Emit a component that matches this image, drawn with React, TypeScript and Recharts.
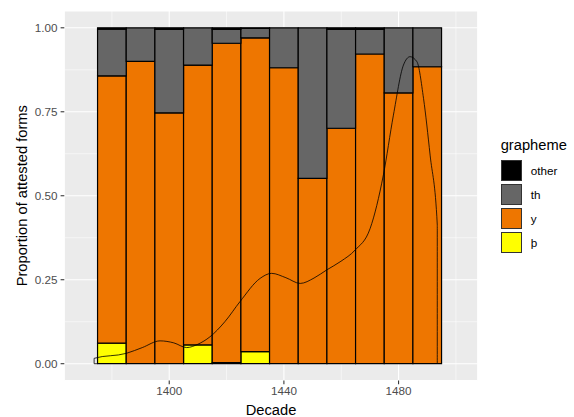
import React from 'react';
import { ComposedChart, Bar, Line, XAxis, YAxis, CartesianGrid } from 'recharts';

const decades = [1380, 1390, 1400, 1410, 1420, 1430, 1440, 1450, 1460, 1470, 1480, 1490];
const thornShare = [0.061, 0, 0, 0.056, 0.003, 0.036, 0, 0, 0, 0, 0, 0];
const yShare = [0.796, 0.9, 0.747, 0.833, 0.951, 0.934, 0.881, 0.552, 0.701, 0.922, 0.806, 0.884];
const thShare = [0.139, 0.1, 0.248, 0.111, 0.041, 0.028, 0.119, 0.448, 0.294, 0.073, 0.194, 0.116];
const otherShare = [0.004, 0, 0.005, 0, 0.005, 0.002, 0, 0, 0.005, 0.005, 0, 0];

const densityYears = [1375.0, 1373.8, 1373.8, 1385.1, 1390.6, 1396.8, 1401.6, 1406.1, 1410.0, 1414.2, 1419.4, 1424.7, 1431.7, 1435.7, 1440.7, 1445.7, 1450.5, 1454.9, 1459.9, 1464.8, 1470.1, 1474.7, 1478.2, 1481.7, 1484.0, 1486.4, 1488.7, 1491.0, 1493.5, 1493.5];
const densityValues = [0, 0, 0.016, 0.031, 0.048, 0.068, 0.062, 0.048, 0.058, 0.08, 0.125, 0.185, 0.254, 0.269, 0.256, 0.239, 0.255, 0.279, 0.305, 0.338, 0.403, 0.562, 0.74, 0.889, 0.914, 0.899, 0.79, 0.621, 0.413, 0];

const xTicks = [1400, 1440, 1480];
const xMinor = [1380, 1420, 1460, 1500];
const yTicks = [0, 0.25, 0.5, 0.75, 1];
const yMinor = [0.125, 0.375, 0.625, 0.875];

const legendItems = [
  { label: 'other', color: '#000000' },
  { label: 'th', color: '#666666' },
  { label: 'y', color: '#EE7600' },
  { label: 'þ', color: '#FFFF00' },
];

const barData = decades.map((d, i) => ({
  x: d,
  thorn: thornShare[i],
  y: yShare[i],
  th: thShare[i],
  other: otherShare[i],
}));

const densityData = densityYears.map((d, i) => ({ x: d, density: densityValues[i] }));

const FONT = '"Liberation Sans", Arial, Helvetica, sans-serif';
const X_DOMAIN: [number, number] = [1363.4, 1507.6];
const BAR_W = 28.65;

const YTitle = (props: any) => {
  const vb = props.viewBox || {};
  const cx = (vb.x || 0) + 22;
  const cy = (vb.y || 0) + (vb.height || 0) / 2;
  return (
    <text
      x={cx}
      y={cy}
      transform={`rotate(-90, ${cx}, ${cy})`}
      textAnchor="middle"
      dominantBaseline="central"
      fontSize={14.7}
      fill="#000"
      fontFamily={FONT}
    >
      Proportion of attested forms
    </text>
  );
};

const XTitle = (props: any) => {
  const vb = props.viewBox || {};
  const cx = (vb.x || 0) + (vb.width || 0) / 2;
  const cy = (vb.y || 0) + 29.5;
  return (
    <text x={cx} y={cy} textAnchor="middle" dominantBaseline="central" fontSize={14.7} fill="#000" fontFamily={FONT}>
      Decade
    </text>
  );
};

export default function App() {
  return (
    <div style={{ position: 'absolute', left: 0, top: 0, width: 574, height: 417, background: '#fff', fontFamily: FONT }}>
      <ComposedChart
        width={574}
        height={417}
        data={barData}
        margin={{ top: 11, right: 96.3, bottom: 0, left: 0 }}
      >
        <CartesianGrid fill="#EBEBEB" stroke="#FFFFFF" strokeWidth={1.07} />
        <CartesianGrid
          fill="none"
          stroke="#FFFFFF"
          strokeWidth={0.53}
          horizontalValues={yMinor}
          verticalValues={xMinor}
        />
        <XAxis
          dataKey="x"
          type="number"
          domain={X_DOMAIN}
          allowDataOverflow
          ticks={xTicks}
          height={36.5}
          axisLine={false}
          tickLine={{ stroke: '#333333', strokeWidth: 1.07 }}
          tickSize={3.7}
          tickMargin={2}
          tick={{ fill: '#4D4D4D', fontSize: 11.7, fontFamily: FONT }}
          label={<XTitle />}
        />
        <XAxis
          xAxisId="dens"
          dataKey="x"
          type="number"
          domain={X_DOMAIN}
          allowDataOverflow
          hide
        />
        <YAxis
          type="number"
          domain={[-0.05, 1.05]}
          allowDataOverflow
          ticks={yTicks}
          width={64.3}
          axisLine={false}
          tickLine={{ stroke: '#333333', strokeWidth: 1.07 }}
          tickSize={3.7}
          tickMargin={3}
          tickFormatter={(v: number) => v.toFixed(2)}
          tick={{ fill: '#4D4D4D', fontSize: 11.7, fontFamily: FONT }}
          label={<YTitle />}
        />
        <Bar dataKey="thorn" stackId="a" fill="#FFFF00" stroke="#000" strokeWidth={1.2} barSize={BAR_W} isAnimationActive={false} />
        <Bar dataKey="y" stackId="a" fill="#EE7600" stroke="#000" strokeWidth={1.2} barSize={BAR_W} isAnimationActive={false} />
        <Bar dataKey="th" stackId="a" fill="#666666" stroke="#000" strokeWidth={1.2} barSize={BAR_W} isAnimationActive={false} />
        <Bar dataKey="other" stackId="a" fill="#000000" stroke="#000" strokeWidth={1.2} barSize={BAR_W} isAnimationActive={false} />
        <Line
          xAxisId="dens"
          data={densityData}
          dataKey="density"
          type="monotone"
          stroke="#000"
          strokeWidth={0.8}
          dot={false}
          activeDot={false}
          isAnimationActive={false}
        />
      </ComposedChart>
      <div style={{ position: 'absolute', left: 500.7, top: 136, fontFamily: FONT }}>
        <div style={{ fontSize: 14.7, color: '#000', lineHeight: '18px', marginBottom: 4 }}>grapheme</div>
        {legendItems.map((it) => (
          <div key={it.label} style={{ display: 'flex', alignItems: 'center', height: 24.2 }}>
            <div
              style={{
                width: 21,
                height: 21,
                background: it.color,
                border: '1px solid #333',
                boxSizing: 'border-box',
              }}
            />
            <span style={{ marginLeft: 9, fontSize: 11.7, color: '#000' }}>{it.label}</span>
          </div>
        ))}
      </div>
    </div>
  );
}
